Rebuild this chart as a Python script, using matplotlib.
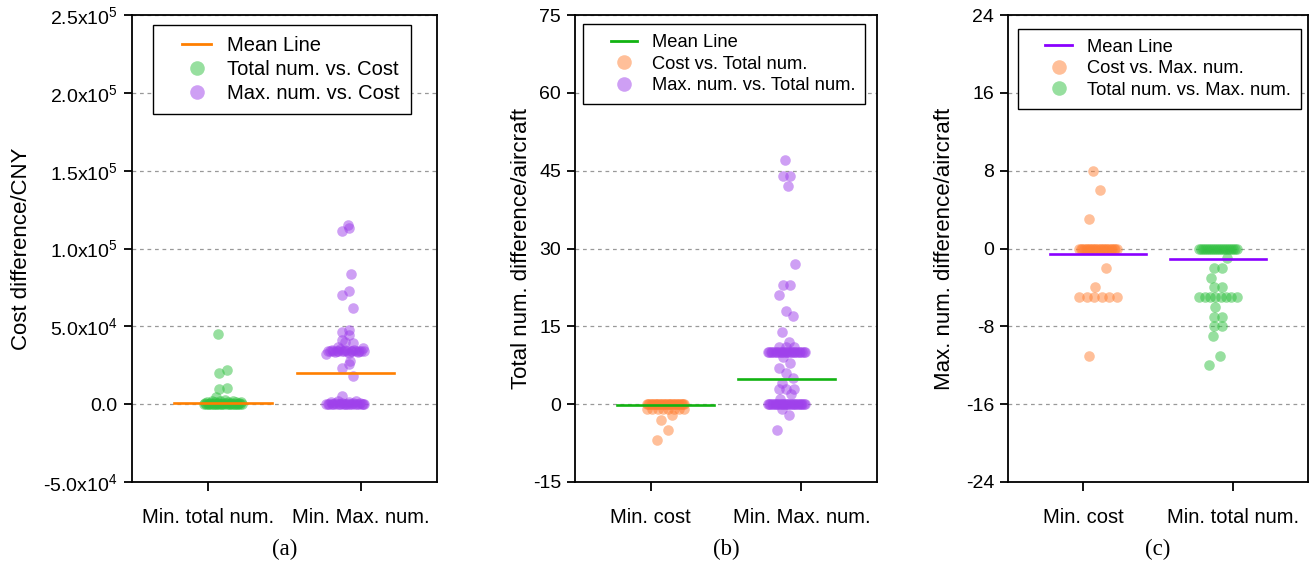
import numpy as np
import matplotlib
matplotlib.use("Agg")
import matplotlib.pyplot as plt
from matplotlib.lines import Line2D
from matplotlib.legend_handler import HandlerLine2D

plt.rcParams['font.family'] = ['Liberation Sans', 'DejaVu Sans']
plt.rcParams['mathtext.fontset'] = 'custom'
plt.rcParams['mathtext.rm'] = 'Liberation Sans'
plt.rcParams['mathtext.it'] = 'Liberation Sans:italic'
plt.rcParams['mathtext.bf'] = 'Liberation Sans:bold'
plt.rcParams['axes.unicode_minus'] = False

# ---- data ----
# (a) cost difference / CNY
a_groups = ["Min. total num.", "Min. Max. num."]
a_total_vs_cost = ([45000, 22000, 20000, 10300, 9600, 4500, 2500]
                   + [0] * 18
                   + [200, 300, 400, 500, 600, 700, 800, 900, 1000, 1100,
                      1200, 1400, 1500, 1700, 1900, 2100, 2300, 100, 250, 650])
a_max_vs_cost = ([115000, 113000, 111000, 83500, 72600, 70000, 61700,
                  47500, 46300, 44300, 41100, 40000, 39200,
                  27600, 25700, 23100, 18000, 5100]
                 + [34000] * 14
                 + [33000, 33500, 34500, 35000, 35500, 36000, 32500, 36500, 33200, 34800]
                 + [0] * 18
                 + [300, 600, 900, 1200, 1500, 1800, 2100, 400, 800, 1000])
a_mean = [500, 20300]
a_ticks = [-50000, 0, 50000, 100000, 150000, 200000, 250000]
a_ticklabels = ['-5.0x10$^4$', '0.0', '5.0x10$^4$', '1.0x10$^5$',
                '1.5x10$^5$', '2.0x10$^5$', '2.5x10$^5$']

# (b) total number difference / aircraft
b_groups = ["Min. cost", "Min. Max. num."]
b_cost_vs_total = [0] * 30 + [-1] * 8 + [-2, -3, -5, -7]
b_max_vs_total = ([47, 44, 44, 42, 27, 23, 23, 21, 18, 17, 14, 12,
                   9, 8, 7, 6, 5, 4, 3, 3, 3, 2, 1, -1, -2, -5]
                  + [10] * 24 + [11] * 3
                  + [0] * 28)
b_mean = [-0.25, 4.8]
b_ticks = [-15, 0, 15, 30, 45, 60, 75]

# (c) max number difference / aircraft
c_groups = ["Min. cost", "Min. total num."]
c_cost_vs_max = [8, 6, 3] + [0] * 25 + [-2, -4] + [-5] * 6 + [-11]
c_total_vs_max = ([0] * 20 + [-1, -2, -2, -3, -4, -4] + [-5] * 8
                  + [-6, -7, -7, -8, -8, -9, -11, -12])
c_mean = [-0.55, -1.03]
c_ticks = [-24, -16, -8, 0, 8, 16, 24]

# ---- colours ----
green = "#31C141"
purple = "#9F41EB"
orange = "#FF8135"
line_orange = "#FF7F00"
line_green = "#12B312"
line_purple = "#8A00FF"
ALPHA = 0.5
MS = 58


def spread(values, center, gap, step=0.05, half=0.125, loose=0.06):
    # spread points of (nearly) equal value sideways, nudge lone points a little
    vals = np.sort(np.asarray(values, dtype=float))
    xs = np.empty_like(vals)
    i = 0
    while i < len(vals):
        j = i
        while j + 1 < len(vals) and vals[j + 1] - vals[i] < gap:
            j += 1
        n = j - i + 1
        if n == 1:
            xs[i] = center + loose * (2 * ((i * 0.618) % 1) - 1)
        else:
            w = min(half, step * (n - 1) / 2)
            pos = np.linspace(-w, w, n)
            order = np.argsort((np.arange(n) * 0.618) % 1)
            xs[i:j + 1] = center + pos[order]
        i = j + 1
    return xs, vals


fig = plt.figure(figsize=(13.16, 5.65), dpi=100)
W, H = 1316, 565
boxes = [(131.7, 437), (575, 877), (1008, 1308)]
top, bottom = 15, 482
axes = []
for l, r in boxes:
    axes.append(fig.add_axes([l / W, 1 - bottom / H, (r - l) / W, (bottom - top) / H]))

panels = [
    (axes[0], a_groups, [a_total_vs_cost, a_max_vs_cost], [green, purple], a_mean, line_orange,
     (-50000, 250000), a_ticks, "Cost difference/CNY", 4000,
     ["Total num. vs. Cost", "Max. num. vs. Cost"], "(a)"),
    (axes[1], b_groups, [b_cost_vs_total, b_max_vs_total], [orange, purple], b_mean, line_green,
     (-15, 75), b_ticks, "Total num. difference/aircraft", 0.9,
     ["Cost vs. Total num.", "Max. num. vs. Total num."], "(b)"),
    (axes[2], c_groups, [c_cost_vs_max, c_total_vs_max], [orange, green], c_mean, line_purple,
     (-24, 24), c_ticks, "Max. num. difference/aircraft", 0.5,
     ["Cost vs. Max. num.", "Total num. vs. Max. num."], "(c)"),
]

centers = [1.1, 1.9]
ylab_x = [-0.327, -0.143, -0.177]

for k, (ax, groups, series, cols, means, mcol, ylim, ticks, ylabel, gap, labels, cap) in enumerate(panels):
    for c, vals, col in zip(centers, series, cols):
        xs, ys = spread(vals, c, gap)
        ax.scatter(xs, ys, s=MS, color=col, alpha=ALPHA, linewidths=0, zorder=3)
    for c, m in zip(centers, means):
        ax.plot([c - 0.32, c + 0.32], [m, m], color=mcol, lw=1.9, zorder=4)

    ax.set_xlim(0.5, 2.5)
    ax.set_ylim(*ylim)
    ax.set_xticks([1, 2])
    ax.set_xticklabels(groups, fontsize=14.5)
    ax.set_yticks(ticks)
    if k == 0:
        ax.set_yticklabels(a_ticklabels, fontsize=14)
    else:
        ax.set_yticklabels([str(t) for t in ticks], fontsize=14)
    ax.tick_params(axis='y', direction='out', length=6, width=1.3, pad=4)
    ax.tick_params(axis='x', direction='out', length=6.5, width=1.3, pad=12)
    ax.grid(axis='y', color='#999999', linestyle=(0, (3, 3)), linewidth=0.9)
    ax.set_axisbelow(True)
    for sp in ax.spines.values():
        sp.set_linewidth(1.3)
    ax.set_ylabel(ylabel, fontsize=16)
    ax.yaxis.set_label_coords(ylab_x[k], 0.5)

    handles = [Line2D([], [], color=mcol, lw=2)]
    for col in cols:
        handles.append(Line2D([], [], linestyle='none', marker='o', markersize=10.5,
                              markerfacecolor=col, markeredgewidth=0, alpha=ALPHA))
    if k == 0:
        fs, anchor, hl, xp = 14.5, (0.069, 0.979), 2.35, 0.9
    else:
        fs, anchor, hl, xp = 13.2, (0.027 if k == 1 else 0.033, 0.981 if k == 1 else 0.971), 2.4, 0.95
    leg = ax.legend(handles, ["Mean Line"] + labels, loc='upper left', bbox_to_anchor=anchor,
                    borderaxespad=0, fontsize=fs, frameon=True, fancybox=False, framealpha=1,
                    edgecolor='black', borderpad=0.55, labelspacing=0.25, handlelength=hl,
                    handletextpad=0.8,
                    handler_map={Line2D: HandlerLine2D(xpad=xp)})
    leg.get_frame().set_linewidth(1.0)

    l, r = boxes[k]
    fig.text((l + r) / 2 / W, 1 - 549 / H, cap, ha='center', va='center',
             fontsize=16.5, family='Liberation Serif')

fig.savefig("out.png", dpi=100)
